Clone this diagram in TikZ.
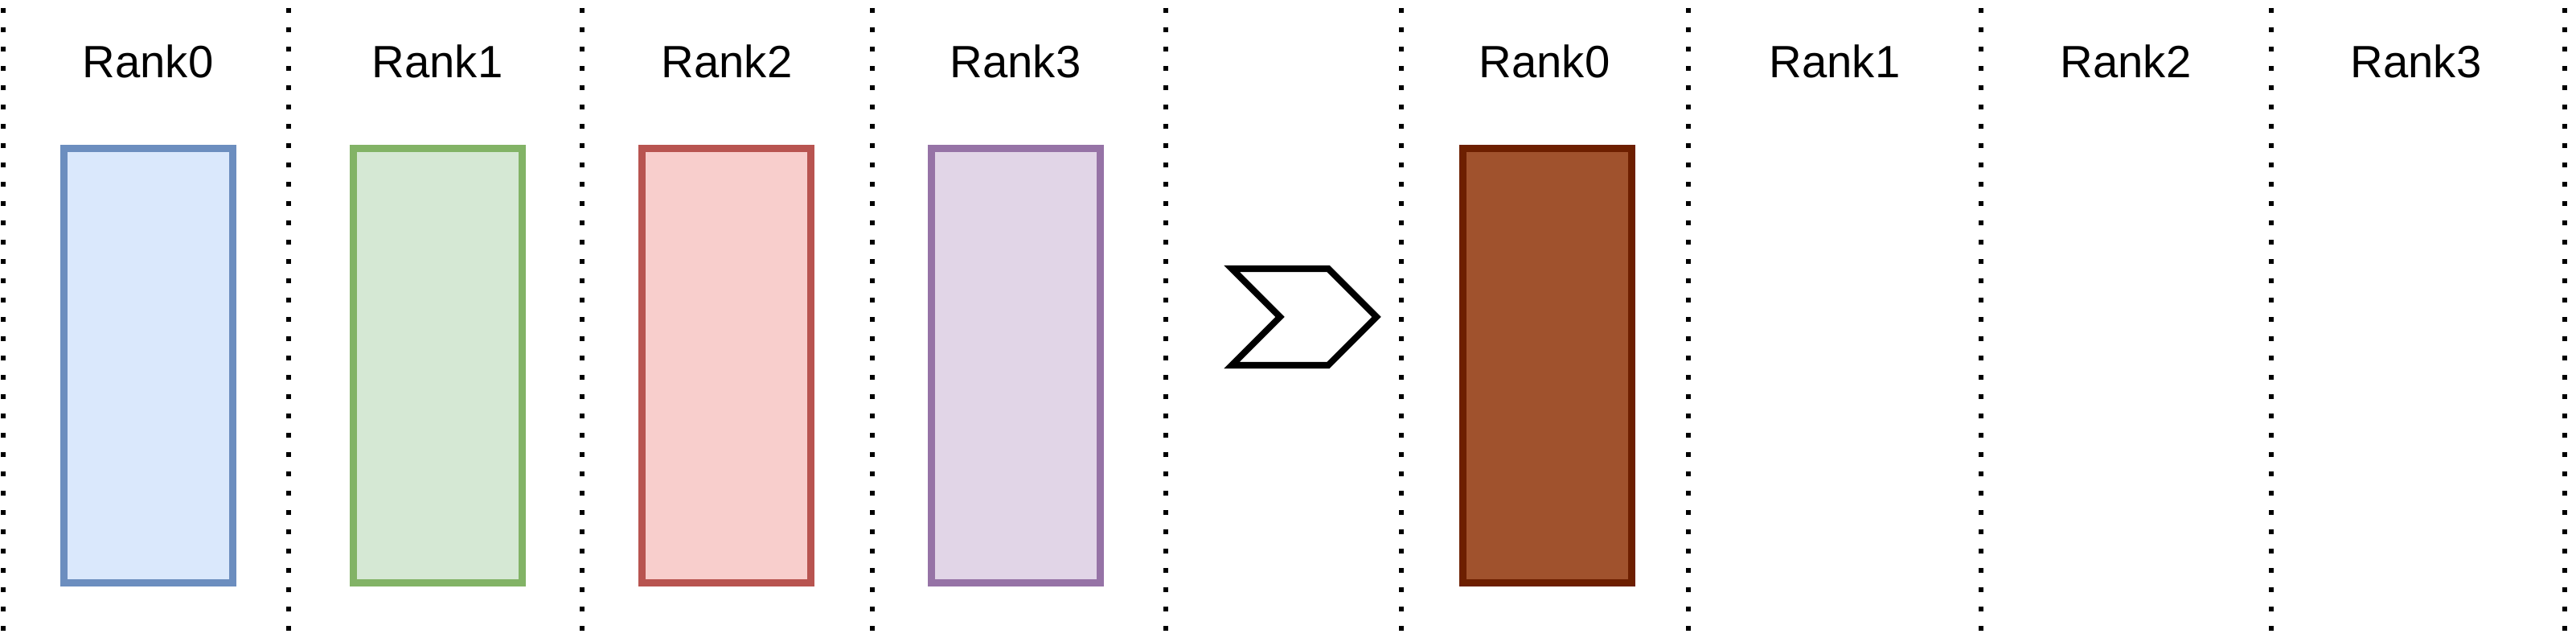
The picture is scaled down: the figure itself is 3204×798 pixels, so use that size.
\documentclass[tikz,border=0pt]{standalone}
\usepackage{fontspec}
\setmainfont{Liberation Sans}
\definecolor{blueFill}{HTML}{DAE8FC}
\definecolor{blueLine}{HTML}{6C8EBF}
\definecolor{greenFill}{HTML}{D5E8D4}
\definecolor{greenLine}{HTML}{82B366}
\definecolor{redFill}{HTML}{F8CECC}
\definecolor{redLine}{HTML}{B85450}
\definecolor{purpleFill}{HTML}{E1D5E7}
\definecolor{purpleLine}{HTML}{9673A6}
\definecolor{brownFill}{HTML}{A0522D}
\definecolor{brownLine}{HTML}{6D1F00}
\tikzset{
  rankbox/.style={draw, line width=2.56pt, inner sep=0pt,
    minimum width=2.1cm, minimum height=5.4cm},
  ranklabel/.style={anchor=base, inner sep=0pt, font=\fontsize{16}{19}\selectfont},
  divider/.style={line width=1.7pt, dash pattern=on 0.06cm off 0.18cm},
}
\begin{document}
\begin{tikzpicture}[x=0.01cm,y=-0.01cm]
    \useasboundingbox (0,0) rectangle (3204,798);
    %% dotted column borders
    \draw[divider] (4,10) -- (4,794);
    \draw[divider] (359,10) -- (359,794);
    \draw[divider] (724,10) -- (724,794);
    \draw[divider] (1085,10) -- (1085,794);
    \draw[divider] (1450,10) -- (1450,794);
    \draw[divider] (1743,10) -- (1743,794);
    \draw[divider] (2100,10) -- (2100,794);
    \draw[divider] (2464,10) -- (2464,794);
    \draw[divider] (2825,10) -- (2825,794);
    \draw[divider] (3190,10) -- (3190,794);
    %% ranks before
    \node[ranklabel] (before0) at (184,97) {Rank0};
    \node[ranklabel] (before1) at (544,97) {Rank1};
    \node[ranklabel] (before2) at (904,97) {Rank2};
    \node[ranklabel] (before3) at (1263,97) {Rank3};
    \node[rankbox, fill=blueFill, draw=blueLine] (buf0) at (184.5,454.5) {};
    \node[rankbox, fill=greenFill, draw=greenLine] (buf1) at (544.5,454.5) {};
    \node[rankbox, fill=redFill, draw=redLine] (buf2) at (903.5,454.5) {};
    \node[rankbox, fill=purpleFill, draw=purpleLine] (buf3) at (1263.5,454.5) {};
    %% step arrow
    \draw[line width=2.3pt, fill=white] (1532,334) -- (1652,334) -- (1712,394)
        -- (1652,454) -- (1532,454) -- (1592,394) -- cycle;
    %% ranks after
    \node[ranklabel] (after0) at (1921,97) {Rank0};
    \node[ranklabel] (after1) at (2282,97) {Rank1};
    \node[ranklabel] (after2) at (2644,97) {Rank2};
    \node[ranklabel] (after3) at (3005,97) {Rank3};
    \node[rankbox, fill=brownFill, draw=brownLine] (result) at (1924.5,454.5) {};
\end{tikzpicture}
\end{document}
